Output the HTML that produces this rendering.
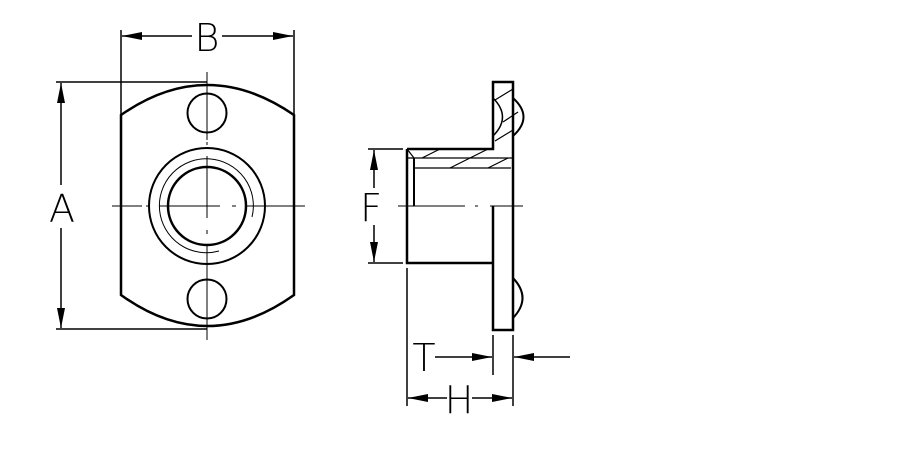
<!DOCTYPE html><html><head><style>body{margin:0;background:#fff}svg{display:block}text{font-family:"DejaVu Sans","Liberation Sans",sans-serif;font-weight:200}</style></head><body>
<svg width="918" height="454" viewBox="0 0 918 454" xmlns="http://www.w3.org/2000/svg">
<defs>
<marker id="ar" viewBox="0 0 20 8" refX="20" refY="4" markerWidth="20" markerHeight="8" markerUnits="userSpaceOnUse" orient="auto-start-reverse"><path d="M0,0L20,4L0,8z" fill="#000"/></marker>
</defs>
<g fill="none" stroke="#000" stroke-width="2">
<path d="M121,115 Q207,55 294,115 L294,295 Q207,357 121,295 Z" stroke-width="2.5"/>
<circle cx="207" cy="113" r="19.5"/>
<circle cx="207" cy="299" r="19.5"/>
<circle cx="207" cy="206" r="58"/>
<circle cx="207" cy="206" r="39" stroke-width="2.5"/>
<path d="M219,251 A47,47 0 1 1 252,217" stroke-width="1"/>
</g>
<g stroke="#000" stroke-width="1">
<line x1="112" y1="206" x2="142" y2="206"/><line x1="146" y1="206" x2="150" y2="206"/><line x1="159" y1="206" x2="220" y2="206"/><line x1="232" y1="206" x2="236" y2="206"/><line x1="245" y1="206" x2="305" y2="206"/>
<line x1="207" y1="72" x2="207" y2="140"/><line x1="207" y1="142" x2="207" y2="145"/><line x1="207" y1="156" x2="207" y2="218"/><line x1="207" y1="230" x2="207" y2="234"/><line x1="207" y1="245" x2="207" y2="340"/>
<line x1="56" y1="82" x2="207" y2="82" stroke-width="1.5"/><line x1="56" y1="329" x2="207" y2="329" stroke-width="1.5"/>
<line x1="121" y1="30" x2="121" y2="115" stroke-width="1.5"/><line x1="294" y1="30" x2="294" y2="115" stroke-width="1.5"/>
<line x1="61" y1="83" x2="61" y2="185" stroke-width="1.5" marker-start="url(#ar)"/>
<line x1="61" y1="228" x2="61" y2="328" stroke-width="1.5" marker-end="url(#ar)"/>
<line x1="122" y1="36" x2="192" y2="36" stroke-width="1.5" marker-start="url(#ar)"/>
<line x1="222" y1="36" x2="293" y2="36" stroke-width="1.5" marker-end="url(#ar)"/>
</g>
<text x="62" y="222" font-size="38" text-anchor="middle">A</text>
<text x="207" y="51" font-size="38" text-anchor="middle">B</text>
<g fill="none" stroke="#000" stroke-width="2.5">
<path d="M407,149 L493,149 L493,82 L513,82 L513,330 L493,330 L493,206"/>
<path d="M407,149 L407,263 L493,263"/>
<line x1="414" y1="158" x2="414" y2="206" stroke-width="2"/>
</g>
<g fill="none" stroke="#000" stroke-width="1.2">
<line x1="407" y1="158" x2="513" y2="158"/>
<line x1="414" y1="168" x2="511" y2="168"/>
<path d="M407,149 L414,158 L414,168"/>
<path d="M513,98 Q534,117 513,136" stroke-width="2"/>
<path d="M493,98 Q512,117 493,136" stroke-width="1.5"/>
<path d="M513,278 Q532,298 513,318" stroke-width="2"/>
<line x1="422" y1="158" x2="440" y2="149"/><line x1="450" y1="168" x2="470" y2="158"/><line x1="470" y1="158" x2="488" y2="149"/><line x1="488" y1="168" x2="508" y2="158"/>
<line x1="495" y1="100" x2="513" y2="89"/><line x1="503" y1="122" x2="518" y2="112"/><line x1="495" y1="141" x2="513" y2="130"/>
<line x1="398" y1="206" x2="465" y2="206" stroke-width="1"/><line x1="475" y1="206" x2="478" y2="206" stroke-width="1"/><line x1="490" y1="206" x2="523" y2="206" stroke-width="1"/>
<line x1="368" y1="149" x2="403" y2="149" stroke-width="1.5"/><line x1="368" y1="263" x2="403" y2="263" stroke-width="1.5"/>
<line x1="374" y1="150" x2="374" y2="188" stroke-width="1.5" marker-start="url(#ar)"/>
<line x1="374" y1="225" x2="374" y2="262" stroke-width="1.5" marker-end="url(#ar)"/>
<line x1="407" y1="268" x2="407" y2="406" stroke-width="1.5"/><line x1="513" y1="335" x2="513" y2="406" stroke-width="1.5"/>
<line x1="493" y1="335" x2="493" y2="375" stroke-width="1.5"/>
<line x1="435" y1="357" x2="492" y2="357" stroke-width="1.5" marker-end="url(#ar)"/>
<line x1="570" y1="357" x2="514" y2="357" stroke-width="1.5" marker-end="url(#ar)"/>
<line x1="408" y1="398" x2="447" y2="398" stroke-width="1.5" marker-start="url(#ar)"/>
<line x1="472" y1="398" x2="512" y2="398" stroke-width="1.5" marker-end="url(#ar)"/>
</g>
<text x="371" y="221" font-size="38" text-anchor="middle">F</text>
<text x="424" y="371" font-size="38" text-anchor="middle">T</text>
<text x="459" y="413" font-size="38" text-anchor="middle">H</text>
</svg></body></html>
